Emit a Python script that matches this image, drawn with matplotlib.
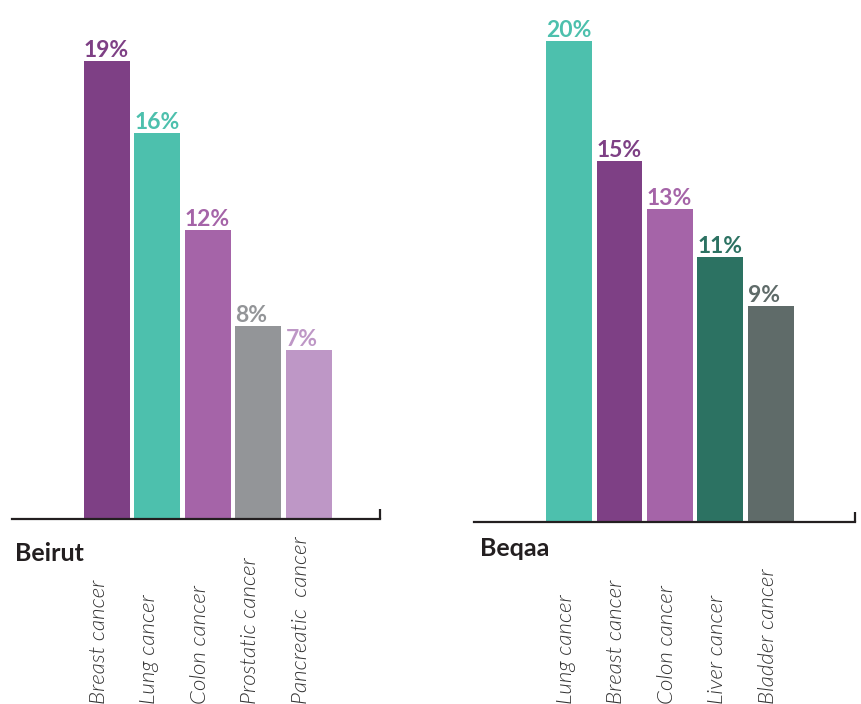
import matplotlib
matplotlib.use("Agg")
import matplotlib.pyplot as plt

plt.rcParams['font.family'] = ['Lato', 'DejaVu Sans']

# top cancers by region (% of cases)
beirut_types = ['Breast cancer', 'Lung cancer', 'Colon cancer', 'Prostatic cancer', 'Pancreatic  cancer']
beirut_pct = [19, 16, 12, 8, 7]
beirut_colors = ['#7E4085', '#4DC0AD', '#A564A8', '#939598', '#BE97C6']

beqaa_types = ['Lung cancer', 'Breast cancer', 'Colon cancer', 'Liver cancer', 'Bladder cancer']
beqaa_pct = [20, 15, 13, 11, 9]
beqaa_colors = ['#4DC0AD', '#7E4085', '#A564A8', '#2C7262', '#5F6B69']

W, H = 861, 704
dark = '#231F20'

fig = plt.figure(figsize=(W / 100, H / 100), dpi=100)


def panel(rect_px, xlim, ymax, names, vals, colors, title, title_px, lab_dx):
    l, t, w, h = rect_px
    ax = fig.add_axes([l / W, (H - t - h) / H, w / W, h / H])
    x = list(range(len(vals)))
    ax.bar(x, vals, width=0.91, color=colors)
    ax.set_xlim(*xlim)
    ax.set_ylim(0, ymax)
    for s in ['top', 'left', 'right']:
        ax.spines[s].set_visible(False)
    ax.spines['bottom'].set_linewidth(1.6)
    ax.spines['bottom'].set_color(dark)
    ax.set_yticks([])
    ax.set_xticks([])
    ax.set_xticks([xlim[1]], minor=True)
    ax.tick_params(axis='x', which='minor', direction='in', length=7,
                   width=1.6, color=dark, labelbottom=False)
    for i, (v, c) in enumerate(zip(vals, colors)):
        ax.annotate(f'{v}%', xy=(i - 0.455, v), xytext=(0, 4),
                    textcoords='offset pixels', ha='left', va='baseline',
                    fontsize=16.5, fontweight='bold', color=c)
        ax.annotate(names[i], xy=(i, 0), xycoords=('data', 'figure pixels'),
                    xytext=(lab_dx, 0), textcoords='offset pixels',
                    rotation=90, ha='center', va='bottom', fontsize=16,
                    fontweight=300, fontstyle='italic', color='#333333')
    fig.text(title_px[0] / W, (H - title_px[1]) / H, title, fontsize=18,
             fontweight='bold', color=dark, ha='left', va='baseline')
    return ax


panel((12, 20, 368, 499), (-1.88, 5.41), 499 / 24.1, beirut_types, beirut_pct,
      beirut_colors, 'Beirut', (15, 561), -8)
panel((474, 20, 381, 502), (-1.885, 5.67), 502 / 24.05, beqaa_types, beqaa_pct,
      beqaa_colors, 'Beqaa', (480, 556), -3)

fig.savefig('out.png', dpi=100, facecolor='white')
